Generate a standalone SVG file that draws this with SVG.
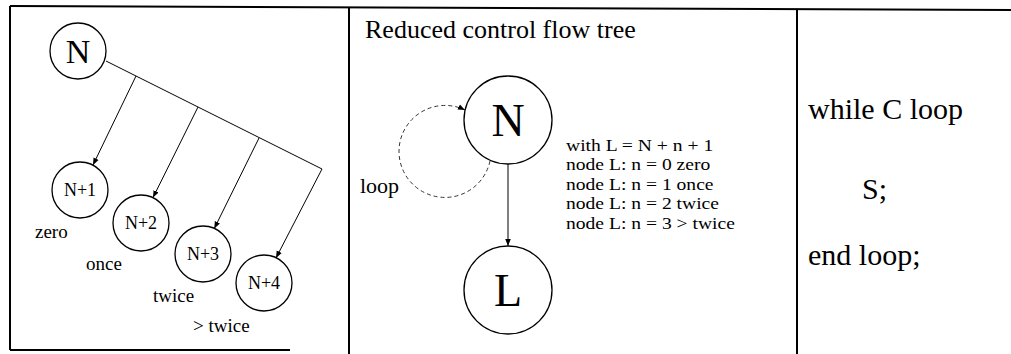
<svg xmlns="http://www.w3.org/2000/svg" width="1011" height="354" viewBox="0 0 1011 354">
  <style>
    .frame { fill: none; stroke: #000; stroke-width: 2; }
    .node { fill: #fff; stroke: #000; stroke-width: 1.3; }
    .edge { fill: none; stroke: #000; stroke-width: 1; }
    .dash { fill: none; stroke: #333; stroke-width: 1; stroke-dasharray: 4 3; }
    text { font-family: "Liberation Serif", "Times New Roman", serif; fill: #000; }
    .big { font-size: 34px; text-anchor: middle; }
    .huge { font-size: 46px; text-anchor: middle; }
    .small { font-size: 18px; text-anchor: middle; }
    .label { font-size: 19px; }
    .note { font-size: 17.5px; }
    .loopname { font-size: 22px; }
    .title { font-size: 26px; }
    .code { font-size: 30px; }
  </style>
  <defs>
    <marker id="ah" viewBox="0 0 10 10" refX="10" refY="5" markerWidth="7" markerHeight="7" orient="auto" markerUnits="userSpaceOnUse">
      <path d="M0,1 L10,5 L0,9 z" fill="#000"/>
    </marker>
  </defs>

  <!-- panel frame -->
  <g id="frame">
    <line class="frame" x1="10" y1="6" x2="1011" y2="10"/>
    <line class="frame" x1="10" y1="6" x2="10" y2="350"/>
    <line class="frame" x1="10" y1="350" x2="290" y2="350"/>
    <line class="frame" x1="349" y1="7" x2="349" y2="354"/>
    <line class="frame" x1="797" y1="9" x2="797" y2="354"/>
  </g>

  <!-- connectors -->
  <g id="connectors">
    <line class="edge" x1="106" y1="61" x2="322" y2="169"/>
    <line class="edge" x1="136" y1="76" x2="93" y2="165" marker-end="url(#ah)"/>
    <line class="edge" x1="198" y1="107" x2="153" y2="197.6" marker-end="url(#ah)"/>
    <line class="edge" x1="259" y1="138" x2="214.3" y2="228.5" marker-end="url(#ah)"/>
    <line class="edge" x1="322" y1="169" x2="276" y2="258" marker-end="url(#ah)"/>
    <line class="edge" x1="508" y1="164" x2="508" y2="246" marker-end="url(#ah)"/>
    <path class="dash" d="M490,161 A46,46 0 1 1 465,110" marker-end="url(#ah)"/>
  </g>

  <!-- tree of iteration counts -->
  <g id="node-N">
    <circle class="node" cx="78" cy="51" r="28"/>
    <text class="big" x="78" y="63">N</text>
  </g>
  <g id="node-N1">
    <circle class="node" cx="80" cy="190" r="28"/>
    <text class="small" x="80" y="196">N+1</text>
  </g>
  <g id="node-N2">
    <circle class="node" cx="141" cy="223" r="28"/>
    <text class="small" x="141" y="229">N+2</text>
  </g>
  <g id="node-N3">
    <circle class="node" cx="203" cy="254" r="28"/>
    <text class="small" x="203" y="260">N+3</text>
  </g>
  <g id="node-N4">
    <circle class="node" cx="264" cy="283" r="28"/>
    <text class="small" x="264" y="289">N+4</text>
  </g>
  <g id="labels-tree">
    <text class="label" x="35" y="238">zero</text>
    <text class="label" x="86" y="270">once</text>
    <text class="label" x="153" y="302">twice</text>
    <text class="label" x="193" y="332">&gt; twice</text>
  </g>

  <!-- reduced tree -->
  <text class="title" x="365" y="38">Reduced control flow tree</text>
  <g id="node-loop-N">
    <circle class="node" cx="508" cy="120" r="44"/>
    <text class="huge" x="508" y="136">N</text>
  </g>
  <g id="node-L">
    <circle class="node" cx="508" cy="290" r="44"/>
    <text class="huge" x="508" y="306">L</text>
  </g>
  <text class="loopname" x="360" y="193">loop</text>

  <!-- legend, set slightly wide -->
  <g id="legend" transform="translate(566,0) scale(1.12,1)">
    <text class="note" x="0" y="151">with L = N + n + 1</text>
    <text class="note" x="0" y="170.5">node L: n = 0 zero</text>
    <text class="note" x="0" y="190">node L: n = 1 once</text>
    <text class="note" x="0" y="209.5">node L: n = 2 twice</text>
    <text class="note" x="0" y="229">node L: n = 3 &gt; twice</text>
  </g>

  <!-- source code -->
  <text class="code" x="808" y="119">while C loop</text>
  <text class="code" x="862" y="199">S;</text>
  <text class="code" x="808" y="265">end loop;</text>
</svg>
